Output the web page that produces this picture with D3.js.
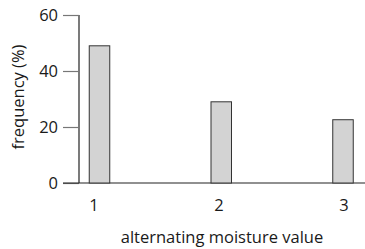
<!DOCTYPE html>
<html><head><meta charset="utf-8">
<script src="https://cdn.jsdelivr.net/npm/d3@7"></script>
<style>body{margin:0;background:#fff;}svg{display:block;}text{font-family:"Open Sans",sans-serif;fill:#1a1a1a;}</style>
</head><body>
<svg id="c" width="365" height="249"></svg>
<script>
const categories = [1, 2, 3];
const frequency = [49, 29, 22.6];
const yTicks = [0, 20, 40, 60];
const xTitle = "alternating moisture value";
const yTitle = "frequency (%)";

const svg = d3.select("#c");
const y = d3.scaleLinear().domain([0, 60]).range([183, 15]);
const x = d3.scaleLinear().domain([1, 3]).range([99.5, 343]);
const labelX = d3.scaleLinear().domain([1, 3]).range([94, 344]);
const barW = 20.5;

// y axis
const yAxis = svg.append("g").attr("transform", "translate(79,0)")
  .call(d3.axisLeft(y).tickValues(yTicks).tickSize(16).tickPadding(5).tickFormat(d3.format("d")));
yAxis.select(".domain").attr("stroke", "#222").attr("stroke-width", 1.2).attr("d", "M0,15V183");
yAxis.selectAll(".tick line").attr("stroke", "#777").attr("stroke-width", 1.2);
yAxis.selectAll(".tick text").attr("font-size", 16.5).attr("fill", "#1a1a1a").style("font-family", "'Open Sans',sans-serif");

// x axis line
svg.append("line").attr("x1", 63).attr("x2", 365).attr("y1", y(0)).attr("y2", y(0))
  .attr("stroke", "#222").attr("stroke-width", 1.2);

// bars
svg.selectAll("rect.bar").data(categories).join("rect").attr("class", "bar")
  .attr("x", (d) => x(d) - barW / 2)
  .attr("width", barW)
  .attr("y", (d, i) => y(frequency[i]))
  .attr("height", (d, i) => y(0) - y(frequency[i]))
  .attr("fill", "#d3d3d3").attr("stroke", "#333").attr("stroke-width", 1);

// x labels
svg.selectAll("text.xl").data(categories).join("text").attr("class", "xl")
  .attr("x", (d) => labelX(d)).attr("y", 211).attr("text-anchor", "middle")
  .attr("font-size", 16.5).text((d) => d);

svg.append("text").attr("x", 222).attr("y", 243).attr("text-anchor", "middle")
  .attr("font-size", 16.5).attr("font-weight", 500).text(xTitle);

svg.append("text").attr("transform", "translate(24,97) rotate(-90)").attr("text-anchor", "middle")
  .attr("font-size", 16.5).attr("font-weight", 500).text(yTitle);
</script>
</body></html>
